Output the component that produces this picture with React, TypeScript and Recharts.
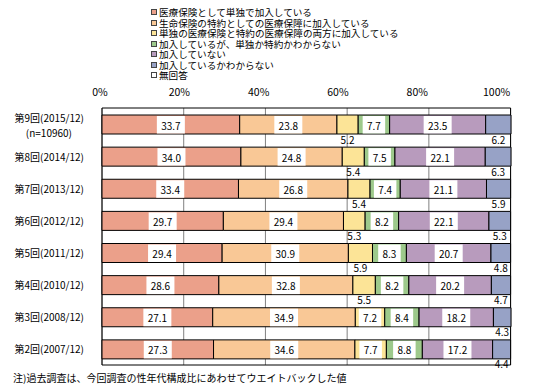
import { Bar, BarChart, CartesianGrid, LabelList, ReferenceArea, XAxis, YAxis } from "recharts";

// Survey rounds, newest first (top row of the chart)
const rounds = [
  "第9回(2015/12)",
  "第8回(2014/12)",
  "第7回(2013/12)",
  "第6回(2012/12)",
  "第5回(2011/12)",
  "第4回(2010/12)",
  "第3回(2008/12)",
  "第2回(2007/12)",
];

const seriesNames = [
  "医療保険として単独で加入している",
  "生命保険の特約としての医療保障に加入している",
  "単独の医療保険と特約の医療保障の両方に加入している",
  "加入しているが、単独か特約かわからない",
  "加入していない",
  "加入しているかわからない",
  "無回答",
];

const standalone = [33.7, 34.0, 33.4, 29.7, 29.4, 28.6, 27.1, 27.3];
const rider = [23.8, 24.8, 26.8, 29.4, 30.9, 32.8, 34.9, 34.6];
const both = [5.2, 5.4, 5.4, 5.3, 5.9, 5.5, 7.2, 7.7];
const unsureType = [7.7, 7.5, 7.4, 8.2, 8.3, 8.2, 8.4, 8.8];
const notEnrolled = [23.5, 22.1, 21.1, 22.1, 20.7, 20.2, 18.2, 17.2];
const unknown = [6.2, 6.3, 5.9, 5.3, 4.8, 4.7, 4.3, 4.4];
const noAnswer = [0, 0, 0, 0, 0, 0, 0, 0];

const ticks = [0, 20, 40, 60, 80, 100];

const colors = ["#EBA08A", "#F9C896", "#FCE497", "#9DC98B", "#B89BBD", "#97A2C6", "#FFFFFF"];
const keys = ["s1", "s2", "s3", "s4", "s5", "s6", "s7"];
const valueArrays = [standalone, rider, both, unsureType, notEnrolled, unknown, noAnswer];

const data = rounds.map((name, i) => {
  const row: Record<string, string | number> = { name };
  keys.forEach((k, j) => {
    row[k] = valueArrays[j][i];
  });
  return row;
});

const FONT = "'Noto Sans CJK JP', sans-serif";

// label drawn in a white box inside the segment, or under the bar when the segment is narrow
function makeLabel(mode: "inside" | "below" | "auto") {
  return (props: any) => {
    const { x, y, width, height, value } = props;
    if (value == null || value <= 0) return null;
    const text = Number(value).toFixed(1);
    const cx = x + width / 2;
    const below = mode === "below" || (mode === "auto" && value < 7);
    if (below) {
      return (
        <text x={cx} y={y + height + 5} textAnchor="middle" dominantBaseline="central" fontSize={10} fontFamily={FONT} fill="#000">
          {text}
        </text>
      );
    }
    const bw = text.length * 5.5 + 6;
    return (
      <g>
        <rect x={cx - bw / 2} y={y + 1} width={bw} height={height - 1.5} fill="#fff" />
        <text x={cx} y={y + height / 2 + 0.5} textAnchor="middle" dominantBaseline="central" fontSize={10} fontFamily={FONT} fill="#000">
          {text}
        </text>
      </g>
    );
  };
}

const labelModes: ("inside" | "below" | "auto" | null)[] = ["inside", "inside", "auto", "inside", "inside", "below", null];

function RoundTick(props: any) {
  const { x, y, payload, index } = props;
  if (index === 0) {
    return (
      <g>
        <text x={x - 10} y={y - 7} textAnchor="end" dominantBaseline="central" fontSize={10} fontFamily={FONT} fill="#000">
          {payload.value}
        </text>
        <text x={x - 22} y={y + 8} textAnchor="end" dominantBaseline="central" fontSize={10} fontFamily={FONT} fill="#000">
          (n=10960)
        </text>
      </g>
    );
  }
  return (
    <text x={x - 10} y={y} textAnchor="end" dominantBaseline="central" fontSize={10} fontFamily={FONT} fill="#000">
      {payload.value}
    </text>
  );
}

function PercentTick(props: any) {
  const { x, y, payload } = props;
  // Excel drew the top labels a bit tighter than the gridlines
  const shift = -2 - payload.value * 0.12;
  return (
    <text x={x + shift} y={y - 4} textAnchor="middle" fontSize={10.5} fontFamily={FONT} fill="#000">
      {payload.value}%
    </text>
  );
}

function LegendBox() {
  return (
    <div style={{ position: "absolute", left: 151, top: 7, fontFamily: FONT, fontSize: 9.6, color: "#000" }}>
      {seriesNames.map((n, i) => (
        <div key={n} style={{ height: 10.5, lineHeight: "10.5px", display: "flex", alignItems: "center", whiteSpace: "nowrap" }}>
          <span
            style={{
              display: "inline-block",
              width: 4,
              height: 4,
              border: "1px solid #444",
              background: colors[i],
              marginRight: 2,
              flexShrink: 0,
            }}
          />
          {n}
        </div>
      ))}
    </div>
  );
}

export default function App() {
  return (
    <div style={{ position: "absolute", left: 0, top: 0, width: 538, height: 387, background: "#fff", fontFamily: FONT }}>
      <BarChart
        width={538}
        height={387}
        data={data}
        layout="vertical"
        barSize={19}
        margin={{ top: 88, right: 27, bottom: 22, left: 0 }}
        accessibilityLayer={false}
      >
        <CartesianGrid horizontal={false} vertical stroke="#808080" verticalValues={ticks} />
        <XAxis
          type="number"
          orientation="top"
          domain={[0, 100]}
          ticks={ticks}
          height={20}
          tickLine={false}
          axisLine={false}
          tick={<PercentTick />}
        />
        <YAxis
          type="category"
          dataKey="name"
          width={102}
          tickLine={false}
          axisLine={false}
          tick={<RoundTick />}
          interval={0}
        />
        {keys.map((k, i) => (
          <Bar
            key={k}
            dataKey={k}
            name={seriesNames[i]}
            stackId="a"
            fill={colors[i]}
            stroke="#000"
            strokeWidth={1}
            isAnimationActive={false}
          >
            {labelModes[i] && <LabelList dataKey={k} content={makeLabel(labelModes[i]!)} />}
          </Bar>
        ))}
        <ReferenceArea x1={0} x2={100} fill="none" stroke="#000" strokeWidth={1} ifOverflow="visible" />
      </BarChart>
      <LegendBox />
      <div
        style={{
          position: "absolute",
          left: 13,
          top: 370,
          fontSize: 10,
          fontFamily: FONT,
          whiteSpace: "nowrap",
          color: "#000",
        }}
      >
        注)過去調査は、今回調査の性年代構成比にあわせてウエイトバックした値
      </div>
    </div>
  );
}
